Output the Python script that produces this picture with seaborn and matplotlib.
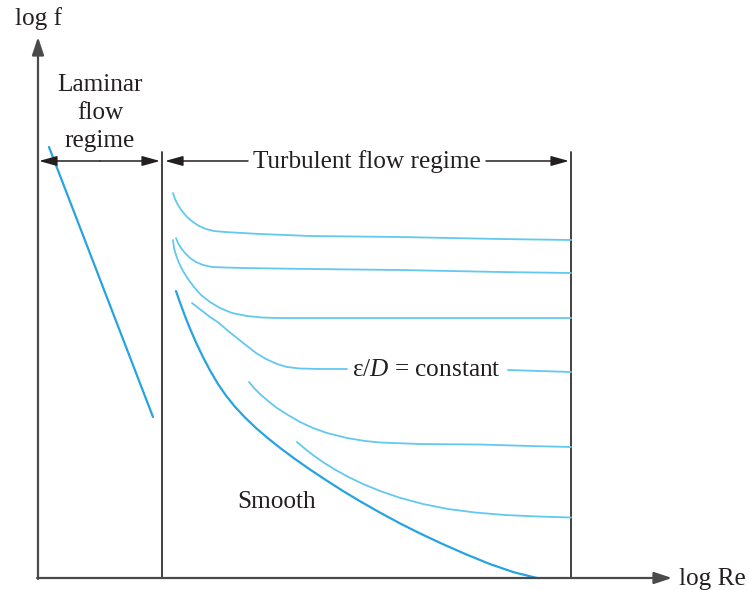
import matplotlib
matplotlib.use("Agg")
import matplotlib.pyplot as plt
import seaborn as sns

# schematic drawn in picture coordinates (x right, y down)
laminar_x = [49, 153]
laminar_y = [147, 417]

curve1_x = [173, 175, 178, 182, 187, 193, 199, 206, 214, 225, 260, 310, 400, 500, 571]
curve1_y = [193, 199, 205, 211, 217, 222, 226, 229, 231, 232, 234, 236, 237, 239, 240]

curve2_x = [176, 178, 181, 185, 190, 196, 203, 212, 225, 243, 310, 400, 500, 571]
curve2_y = [238, 243, 248, 253, 258, 262, 265, 267, 267.5, 268, 269, 270, 272, 273]

curve3_x = [173, 174, 176, 179, 183, 188, 194, 201, 210, 220, 232, 247, 262, 277, 571]
curve3_y = [240, 248, 255, 263, 271, 279, 287, 295, 302, 308, 313, 316, 317.5, 318, 318]

curve4a_x = [192, 201, 210, 219, 227, 237, 247, 256, 266, 277, 287, 300, 320, 347]
curve4a_y = [303, 310, 317, 323, 330, 338, 346, 353, 359, 364, 367, 368.5, 369, 369]
curve4b_x = [508, 540, 571]
curve4b_y = [370, 371, 372]

curve5_x = [249, 254, 260, 268, 277, 288, 300, 313, 327, 347, 365, 380, 420, 480, 530, 571]
curve5_y = [382, 388, 394, 401, 408, 415, 422, 428, 433, 438, 441, 442.5, 444, 444.5, 446, 447]

curve6_x = [297, 305, 314, 324, 335, 348, 363, 380, 400, 423, 448, 475, 505, 538, 571]
curve6_y = [442, 448.8, 455.8, 462.8, 469.6, 476.8, 484, 491, 497.8, 504, 509, 512.5, 515,
            516.5, 517.5]

smooth_x = [176, 180, 185, 190, 196, 203, 210, 218, 226, 235, 245, 256, 268, 281,
            295, 310, 326, 343, 361, 380, 400, 421, 443, 466, 490, 514, 537]
smooth_y = [291, 302.6, 316.1, 328.6, 342.4, 357.1, 370.4, 384, 395.6, 406.8, 417.5, 428,
            438.3, 448.6, 459, 469.5, 480.1, 491, 501.8, 512.6, 523.4, 533.9, 544.2,
            554.3, 564.1, 572.3, 578]

light = "#63c8f0"
dark = "#27a3e2"
ink = "#231f20"
axis_col = "#4a4a4a"

sns.set_theme(style="white")
plt.rcParams["font.family"] = ["Liberation Serif", "DejaVu Serif"]
plt.rcParams["mathtext.fontset"] = "custom"
plt.rcParams["mathtext.rm"] = "Liberation Serif"
plt.rcParams["mathtext.it"] = "Liberation Serif:italic"

fig = plt.figure(figsize=(7.49, 5.90), dpi=100)
ax = fig.add_axes([0, 0, 1, 1])
ax.set_xlim(0, 749)
ax.set_ylim(590, 0)
ax.axis("off")

# axes and regime boundaries
arrow = dict(arrowstyle="-|>,head_length=0.9,head_width=0.3", color=axis_col, lw=1.6,
             shrinkA=0, shrinkB=0)
ax.annotate("", xy=(38, 37), xytext=(38, 579), arrowprops=arrow)
ax.annotate("", xy=(672, 578), xytext=(37, 578), arrowprops=arrow)
ax.plot([162, 162], [152, 578], color="#333333", lw=1.3)
ax.plot([571, 571], [152, 578], color="#333333", lw=1.3)

reg = dict(arrowstyle="-|>,head_length=0.9,head_width=0.25", color=ink, lw=1.1,
           shrinkA=0, shrinkB=0)
ax.annotate("", xy=(39, 161), xytext=(100, 161), arrowprops=reg)
ax.annotate("", xy=(160, 161), xytext=(100, 161), arrowprops=reg)
ax.annotate("", xy=(165, 161), xytext=(248, 161), arrowprops=reg)
ax.annotate("", xy=(569, 161), xytext=(486, 161), arrowprops=reg)

# curves
for xs, ys, col, lw in [
    (curve1_x, curve1_y, light, 1.3),
    (curve2_x, curve2_y, light, 1.3),
    (curve3_x, curve3_y, light, 1.3),
    (curve4a_x, curve4a_y, light, 1.3),
    (curve4b_x, curve4b_y, light, 1.3),
    (curve5_x, curve5_y, light, 1.3),
    (curve6_x, curve6_y, light, 1.3),
    (smooth_x, smooth_y, dark, 1.6),
    (laminar_x, laminar_y, dark, 1.6),
]:
    sns.lineplot(x=xs, y=ys, ax=ax, sort=False, estimator=None, color=col, lw=lw)

fs = 18.2
ax.text(15, 25, "log f", fontsize=fs, color=ink, ha="left", va="baseline")
ax.text(679, 585, "log Re", fontsize=fs, color=ink, ha="left", va="baseline")
ax.text(100, 91, "Laminar", fontsize=fs, color=ink, ha="center", va="baseline")
ax.text(100, 119, "flow", fontsize=fs, color=ink, ha="center", va="baseline")
ax.text(100, 147, "regime", fontsize=fs, color=ink, ha="center", va="baseline")
ax.text(367, 168, "Turbulent flow regime", fontsize=fs, color=ink, ha="center", va="baseline")
ax.text(352, 376, r"ε/$\mathit{D}$ = constant", fontsize=fs, color=ink, ha="left", va="baseline")
ax.text(237, 508, "Smooth", fontsize=fs, color=ink, ha="left", va="baseline")

fig.savefig("out.png", dpi=100)
